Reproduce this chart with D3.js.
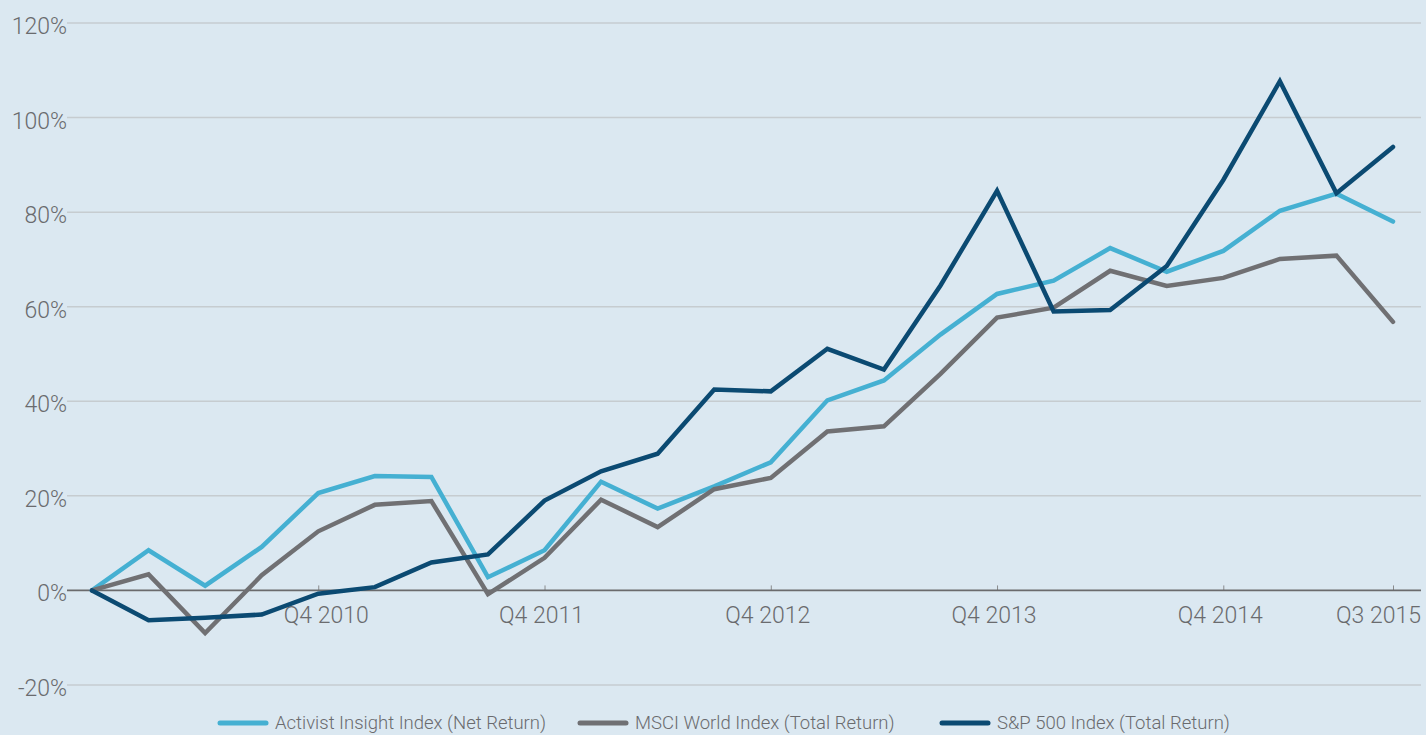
<!DOCTYPE html>
<html>
<head>
<meta charset="utf-8">
<script src="https://cdn.jsdelivr.net/npm/d3@7"></script>
<style>
  html, body { margin: 0; padding: 0; background: #dbe8f1; overflow: hidden; }
  svg { display: block; font-family: Roboto, "Helvetica Neue", Arial, sans-serif; font-weight: 300; }
</style>
</head>
<body>
<script>
// quarters from Q4 2009 to Q3 2015
var quarters = ["Q4 2009", "Q1 2010", "Q2 2010", "Q3 2010", "Q4 2010", "Q1 2011", "Q2 2011", "Q3 2011",
                "Q4 2011", "Q1 2012", "Q2 2012", "Q3 2012", "Q4 2012", "Q1 2013", "Q2 2013", "Q3 2013",
                "Q4 2013", "Q1 2014", "Q2 2014", "Q3 2014", "Q4 2014", "Q1 2015", "Q2 2015", "Q3 2015"];

var activist = [0, 8.5, 1.0, 9.2, 20.6, 24.2, 24.0, 2.8, 8.5, 23.0, 17.3, 22.0,
                27.1, 40.2, 44.4, 54.1, 62.7, 65.5, 72.4, 67.4, 71.8, 80.3, 83.9, 78.0];
var msci     = [0, 3.4, -9.0, 3.2, 12.5, 18.1, 18.9, -0.8, 6.9, 19.2, 13.4, 21.4,
                23.8, 33.6, 34.7, 45.8, 57.7, 59.8, 67.6, 64.4, 66.1, 70.1, 70.8, 56.8];
var sp500    = [0, -6.3, -5.8, -5.1, -0.7, 0.7, 5.9, 7.6, 19.0, 25.2, 28.9, 42.5,
                42.1, 51.1, 46.7, 64.5, 84.5, 59.0, 59.3, 68.6, 86.8, 107.7, 84.0, 93.8];

var xTickLabels = ["Q4 2010", "Q4 2011", "Q4 2012", "Q4 2013", "Q4 2014", "Q3 2015"];
var yTicks = [-20, 0, 20, 40, 60, 80, 100, 120];

var seriesNames = ["Activist Insight Index (Net Return)", "MSCI World Index (Total Return)", "S&P 500 Index (Total Return)"];
var seriesColors = ["#45b0d2", "#707073", "#0b4a72"];

var series = [activist, msci, sp500];

var width = 1426, height = 735;

var svg = d3.select("body")
            .append("svg")
            .attr("width", width)
            .attr("height", height);

svg.append("rect")
   .attr("width", width)
   .attr("height", height)
   .attr("fill", "#dbe8f1");

// scales
var xScale = d3.scaleLinear()
               .domain([0, quarters.length - 1])
               .range([92, 1393]);

var yScale = d3.scaleLinear()
               .domain([-20, 120])
               .range([685, 23]);

var gridLeft = 67, gridRight = 1421;

// gridlines
svg.append("g")
   .selectAll("line")
   .data(yTicks.filter(function(d) { return d !== 0; }))
   .enter()
   .append("line")
   .attr("x1", gridLeft)
   .attr("x2", gridRight)
   .attr("y1", function(d) { return yScale(d); })
   .attr("y2", function(d) { return yScale(d); })
   .attr("stroke", "#c6ccd0")
   .attr("stroke-width", 1.5);

// y labels
svg.append("g")
   .selectAll("text")
   .data(yTicks)
   .enter()
   .append("text")
   .attr("x", gridLeft)
   .attr("y", function(d) { return yScale(d) + 11; })
   .attr("text-anchor", "end")
   .attr("font-size", "23px")
   .attr("fill", "#6a6b6e")
   .text(function(d) { return d + "%"; });

// x axis along zero
var xAxis = d3.axisTop(xScale)
              .tickValues(xTickLabels.map(function(l) { return quarters.indexOf(l); }))
              .tickSize(5)
              .tickFormat("");

var xGuide = svg.append("g")
                .attr("transform", "translate(0," + yScale(0) + ")")
                .call(xAxis);
xGuide.select(".domain").remove();
xGuide.selectAll("line").attr("stroke", "#8a8b8d").attr("stroke-width", 1);

svg.append("line")
   .attr("x1", gridLeft)
   .attr("x2", gridRight)
   .attr("y1", yScale(0))
   .attr("y2", yScale(0))
   .attr("stroke", "#6b6b6d")
   .attr("stroke-width", 1.8);

// x tick labels
svg.append("g")
   .selectAll("text")
   .data(xTickLabels)
   .enter()
   .append("text")
   .attr("x", function(d, i) {
     var x = xScale(quarters.indexOf(d));
     if (i === 0) return x + 8;
     if (i === xTickLabels.length - 1) return gridRight;
     return x - 3;
   })
   .attr("y", yScale(0) + 33)
   .attr("text-anchor", function(d, i) { return i === xTickLabels.length - 1 ? "end" : "middle"; })
   .attr("font-size", "23px")
   .attr("fill", "#6a6b6e")
   .text(function(d) { return d; });

// lines
var line = d3.line()
             .x(function(d, i) { return xScale(i); })
             .y(function(d) { return yScale(d); });

svg.append("g")
   .selectAll("path")
   .data(series)
   .enter()
   .append("path")
   .attr("d", line)
   .attr("fill", "none")
   .attr("stroke", function(d, i) { return seriesColors[i]; })
   .attr("stroke-width", 4.5)
   .attr("stroke-linejoin", "miter")
   .attr("stroke-linecap", "round");

// legend (kept just inside the bottom edge)
var legendX = [220, 580, 942];
var legend = svg.append("g");
legend.selectAll("line")
      .data(seriesNames)
      .enter()
      .append("line")
      .attr("x1", function(d, i) { return legendX[i]; })
      .attr("x2", function(d, i) { return legendX[i] + 46; })
      .attr("y1", 723)
      .attr("y2", 723)
      .attr("stroke", function(d, i) { return seriesColors[i]; })
      .attr("stroke-width", 5)
      .attr("stroke-linecap", "round");
legend.selectAll("text")
      .data(seriesNames)
      .enter()
      .append("text")
      .attr("x", function(d, i) { return legendX[i] + 55; })
      .attr("y", 729)
      .attr("font-size", "18.5px")
      .attr("fill", "#6a6b6e")
      .text(function(d) { return d; });
</script>
</body>
</html>
